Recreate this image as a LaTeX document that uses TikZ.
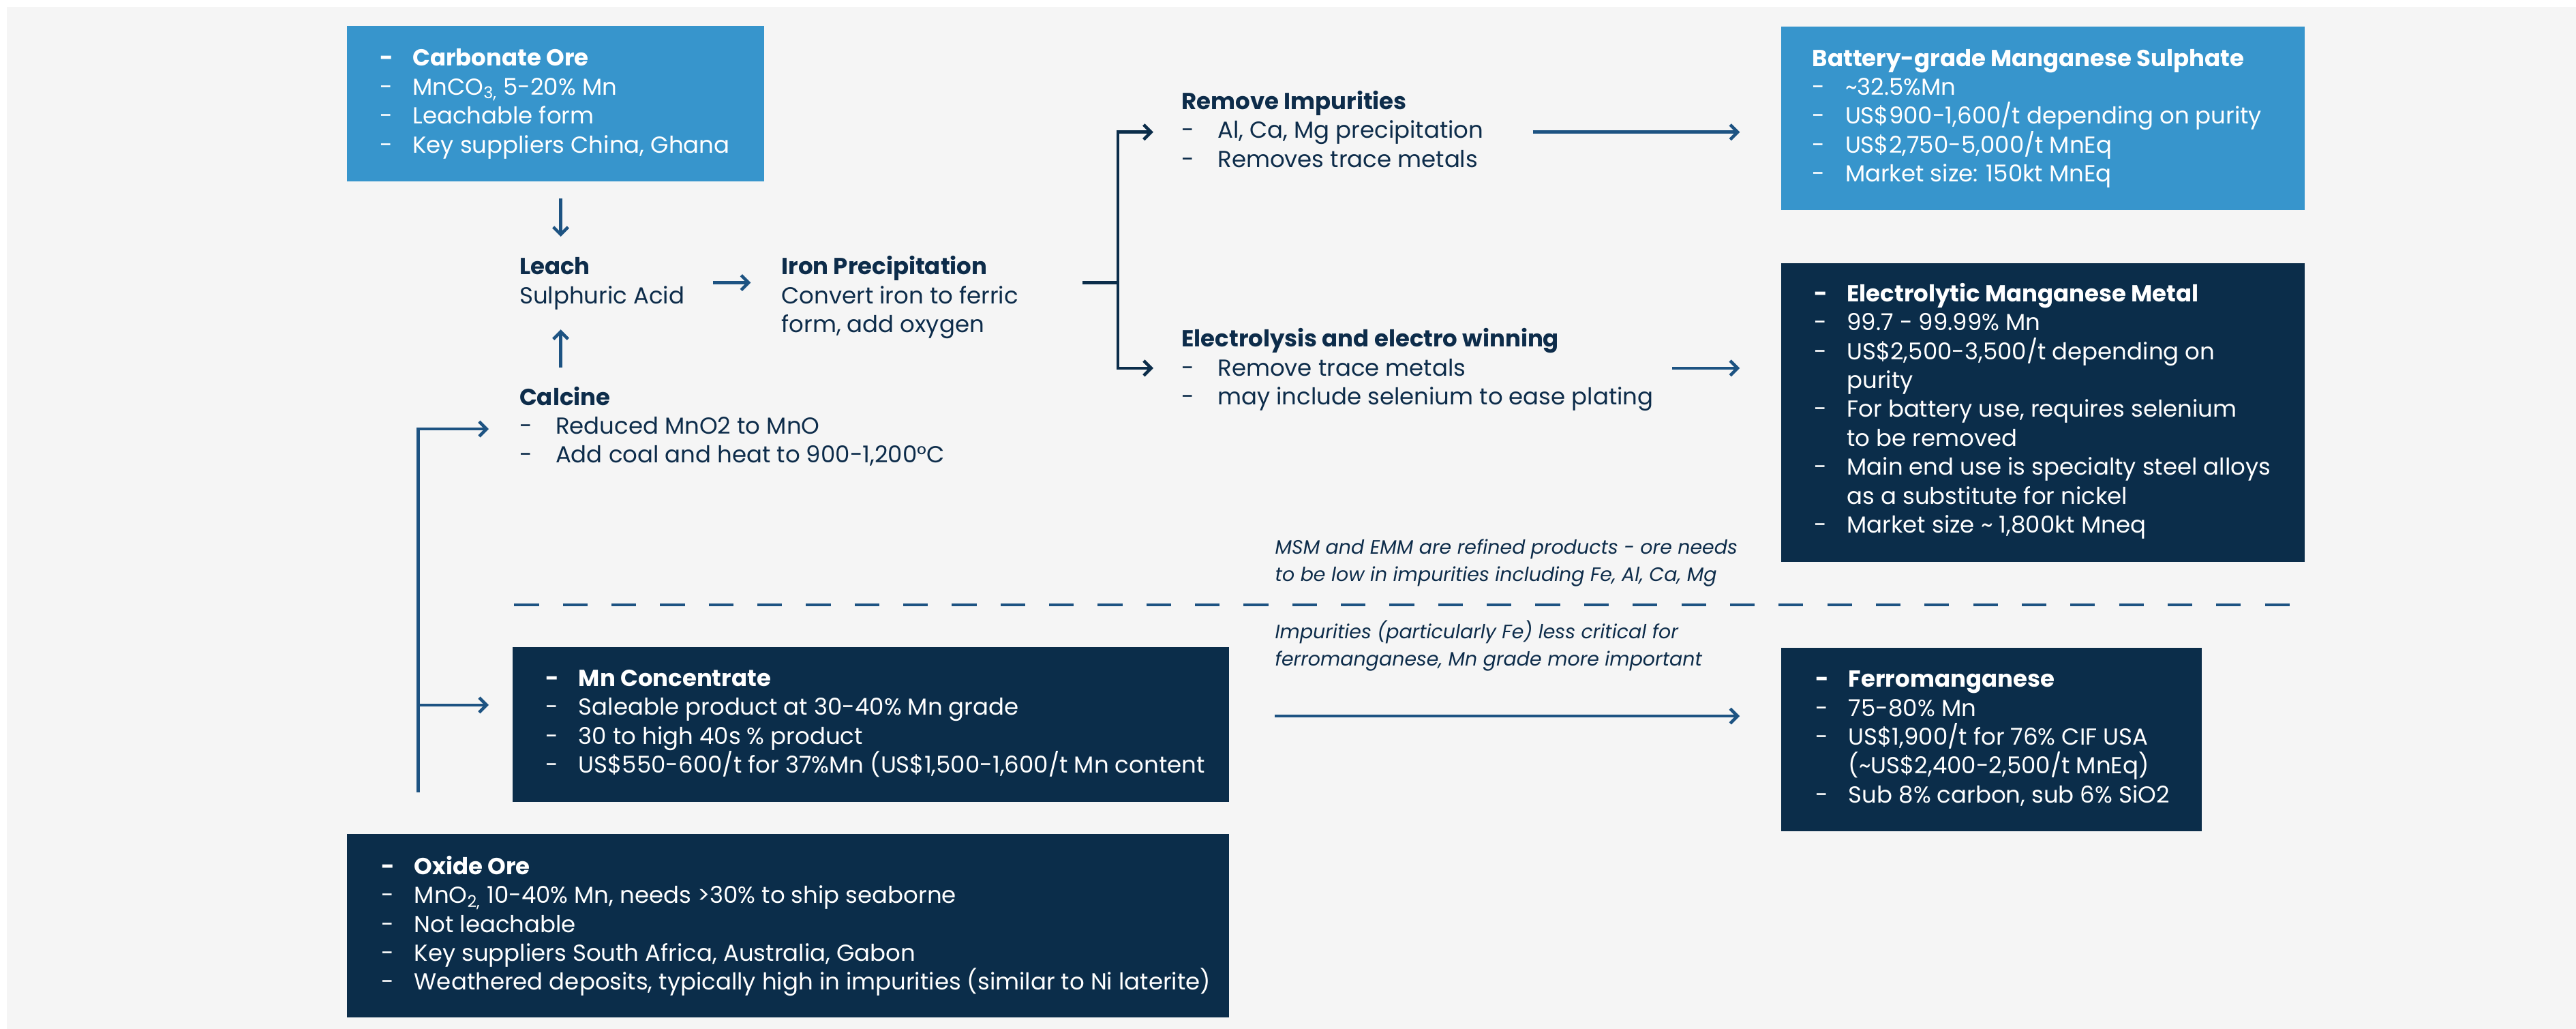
\documentclass[tikz,border=0pt]{standalone}
\usepackage{fontspec}
\setmainfont{Poppins}
\usetikzlibrary{arrows.meta}
\definecolor{bgc}{HTML}{F5F5F5}
\definecolor{lblue}{HTML}{3795CC}
\definecolor{navy}{HTML}{0B2D4A}
\definecolor{arrc}{HTML}{1D5382}
\definecolor{txtc}{HTML}{0D2C4A}
\newcommand{\bl}[1]{\makebox[20pt][l]{-}#1}
\newcommand{\blt}[1]{\makebox[20pt][l]{\textbf{-}}\textbf{#1}}
\newcommand{\cnt}[1]{\hspace*{20pt}#1}
\newcommand{\fl}[1]{\makebox[22pt][l]{-}#1}
\tikzset{
  lbox/.style={fill=lblue, inner sep=0pt, anchor=north west},
  dbox/.style={fill=navy, inner sep=0pt, anchor=north west},
  wtext/.style={text=white, align=left, inner sep=0pt, anchor=base west, font=\fontsize{14.1}{17.6}\selectfont},
  dtext/.style={text=txtc, align=left, inner sep=0pt, anchor=base west, font=\fontsize{14.1}{17.6}\selectfont},
  note/.style={text=txtc, align=left, inner sep=0pt, anchor=base west, font=\fontsize{11.8}{16.6}\selectfont\itshape},
  arr/.style={draw=arrc, line width=1.9pt, -{Straight Barb[length=4.5pt,width=9pt]}},
  brkarr/.style={draw=navy, line width=1.9pt, -{Straight Barb[length=4.5pt,width=9pt]}},
  brk/.style={draw=navy, line width=1.9pt},
  dline/.style={draw=arrc, line width=1.4pt, dash pattern=on 15pt off 14.6pt}
}
\begin{document}
\begin{tikzpicture}[x=1pt,y=-1pt]
\useasboundingbox (0,0) rectangle (1568,626);
\fill[white] (0,0) rectangle (1568,626);
\fill[bgc] (4,4) rectangle (1568,626);

% boxes
\node[lbox, minimum width=254pt, minimum height=94.5pt] (carb) at (211,15.7) {};
\node[lbox, minimum width=318.6pt, minimum height=111.6pt] (msm) at (1084,16) {};
\node[dbox, minimum width=318.6pt, minimum height=181.6pt] (emm) at (1084,159.9) {};
\node[dbox, minimum width=436pt, minimum height=94.2pt] (mnc) at (312,393.6) {};
\node[dbox, minimum width=256pt, minimum height=111.7pt] (fem) at (1084,393.8) {};
\node[dbox, minimum width=537pt, minimum height=111.5pt] (oxo) at (211,507.3) {};

% box texts (anchored at the baseline of their last line)
\node[wtext] (carbT) at (231,93.0) {\blt{Carbonate Ore}\\ \bl{MnCO\textsubscript{3,} 5-20\% Mn}\\ \bl{Leachable form}\\ \bl{Key suppliers China, Ghana}};
\node[wtext] (msmT) at (1103,110.7) {\textbf{Battery-grade Manganese Sulphate}\\ \bl{\textasciitilde 32.5\%Mn}\\ \bl{US\$900-1,600/t depending on purity}\\ \bl{US\$2,750-5,000/t MnEq}\\ \bl{Market size: 150kt MnEq}};
\node[wtext] (emmT) at (1104,324.3) {\blt{Electrolytic Manganese Metal}\\ \bl{99.7 - 99.99\% Mn}\\ \bl{US\$2,500-3,500/t depending on}\\ \cnt{purity}\\ \bl{For battery use, requires selenium}\\ \cnt{to be removed}\\ \bl{Main end use is specialty steel alloys}\\ \cnt{as a substitute for nickel}\\ \bl{Market size \textasciitilde{} 1,800kt Mneq}};
\node[wtext] (mncT) at (332,470.3) {\blt{Mn Concentrate}\\ \bl{Saleable product at 30-40\% Mn grade}\\ \bl{30 to high 40s \% product}\\ \bl{US\$550-600/t for 37\%Mn (US\$1,500-1,600/t Mn content}};
\node[wtext] (femT) at (1105,488.5) {\blt{Ferromanganese}\\ \bl{75-80\% Mn}\\ \bl{US\$1,900/t for 76\% CIF USA}\\ \cnt{(\textasciitilde{}US\$2,400-2,500/t MnEq)}\\ \bl{Sub 8\% carbon, sub 6\% SiO2}};
\node[wtext] (oxoT) at (232,602.4) {\blt{Oxide Ore}\\ \bl{MnO\textsubscript{2,} 10-40\% Mn, needs >30\% to ship seaborne}\\ \bl{Not leachable}\\ \bl{Key suppliers South Africa, Australia, Gabon}\\ \bl{Weathered deposits, typically high in impurities (similar to Ni laterite)}};

% free process texts
\node[dtext] (leach) at (316,184.7) {\textbf{Leach}\\ Sulphuric Acid};
\node[dtext] (iron) at (475.5,202.3) {\textbf{Iron Precipitation}\\ Convert iron to ferric\\ form, add oxygen};
\node[dtext] (calc) at (316,281.7) {\textbf{Calcine}\\ \fl{Reduced MnO2 to MnO}\\ \fl{Add coal and heat to 900-1,200°C}};
\node[dtext] (remi) at (719,101.7) {\textbf{Remove Impurities}\\ \fl{Al, Ca, Mg precipitation}\\ \fl{Removes trace metals}};
\node[dtext] (elec) at (719,246.3) {\textbf{Electrolysis and electro winning}\\ \fl{Remove trace metals}\\ \fl{may include selenium to ease plating}};

% notes
\node[note] (note1) at (776,353.6) {MSM and EMM are refined products - ore needs\\ to be low in impurities including Fe, Al, Ca, Mg};
\node[note] (note2) at (776,405.2) {Impurities (particularly Fe) less critical for\\ ferromanganese, Mn grade more important};

% connector coordinates
\coordinate (dA) at (341.3,120.7); \coordinate (dB) at (341.3,144);
\coordinate (uA) at (341.3,223.7); \coordinate (uB) at (341.3,200.5);
\coordinate (lA) at (434,172); \coordinate (lB) at (457,172);
\coordinate (bS) at (659,172); \coordinate (bJ) at (680.5,172);
\coordinate (bT) at (702,80.4); \coordinate (bB) at (702,224);
\coordinate (rA) at (933,80.4); \coordinate (rB) at (1059,80.4);
\coordinate (eA) at (1018,224); \coordinate (eB) at (1059,224);
\coordinate (fBot) at (254.5,482); \coordinate (fTop) at (297.5,261);
\coordinate (fMid) at (254.5,429); \coordinate (fMe) at (297.5,429);
\coordinate (mA) at (776,435.7); \coordinate (mB) at (1059,435.7);
\coordinate (dl1) at (313,368); \coordinate (dl2) at (1403,368);

\draw[arr] (dA) -- (dB);
\draw[arr] (uA) -- (uB);
\draw[arr] (lA) -- (lB);
\draw[brk] (bS) -- (bJ);
\draw[brkarr] (bJ) |- (bT);
\draw[brkarr] (bJ) |- (bB);
\draw[arr] (rA) -- (rB);
\draw[arr] (eA) -- (eB);
\draw[arr] (fBot) |- (fTop);
\draw[arr] (fMid) -- (fMe);
\draw[arr] (mA) -- (mB);
\draw[dline] (dl1) -- (dl2);
\end{tikzpicture}
\end{document}
